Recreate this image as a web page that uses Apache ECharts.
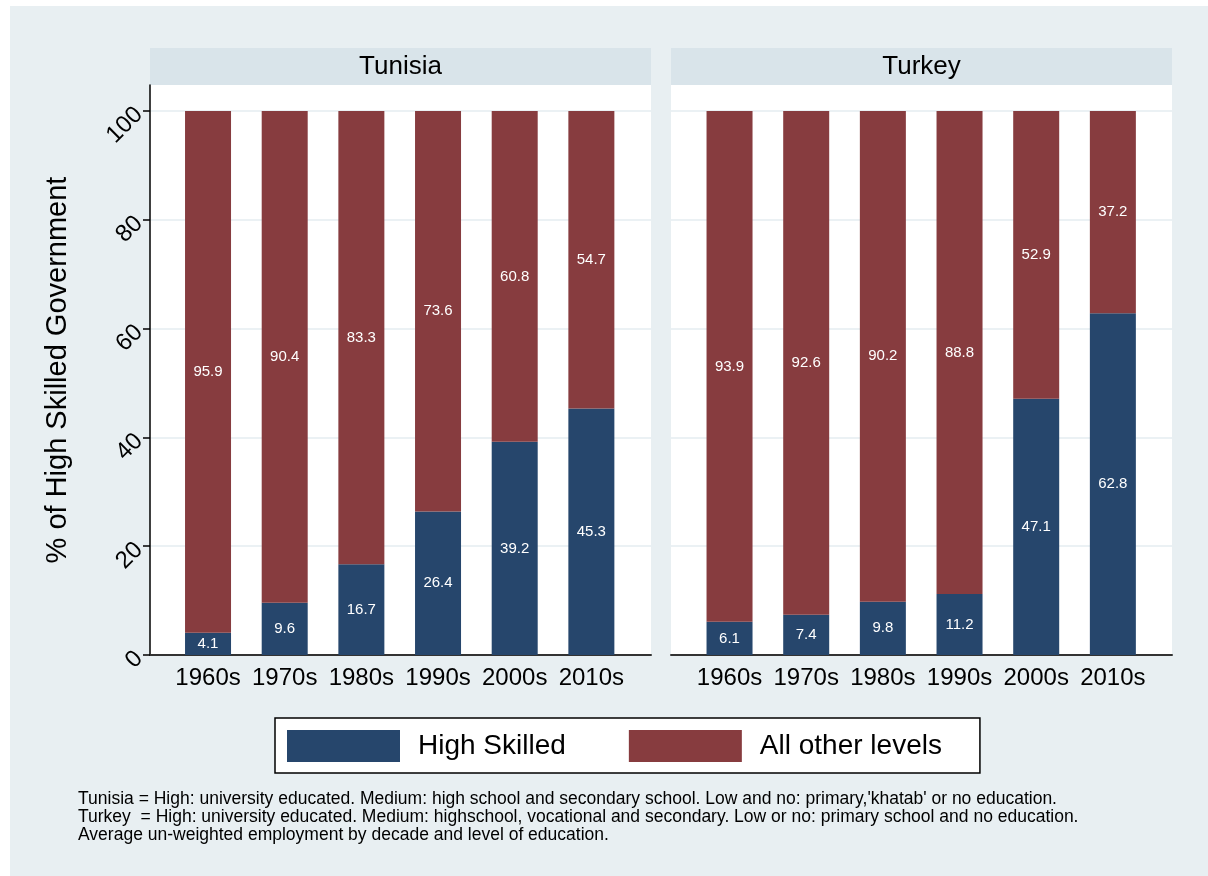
<!DOCTYPE html>
<html><head><meta charset="utf-8">
<script src="https://cdn.jsdelivr.net/npm/echarts@6/dist/echarts.min.js"></script>
<style>html,body{margin:0;padding:0;background:#fff}#c{width:1208px;height:876px}</style>
</head><body><div id="c"></div>
<script>
const decades = ['1960s','1970s','1980s','1990s','2000s','2010s'];
const panels = ['Tunisia','Turkey'];
const tunisiaHigh = [4.1, 9.6, 16.7, 26.4, 39.2, 45.3];
const tunisiaOther = [95.9, 90.4, 83.3, 73.6, 60.8, 54.7];
const turkeyHigh = [6.1, 7.4, 9.8, 11.2, 47.1, 62.8];
const turkeyOther = [93.9, 92.6, 90.2, 88.8, 52.9, 37.2];
const yTicks = [0, 20, 40, 60, 80, 100];
const seriesNames = ['High Skilled', 'All other levels'];
const yTitle = '% of High Skilled Government';
const notes = [
  "Tunisia = High: university educated. Medium: high school and secondary school. Low and no: primary,'khatab' or no education.",
  "Turkey  = High: university educated. Medium: highschool, vocational and secondary. Low or no: primary school and no education.",
  "Average un-weighted employment by decade and level of education."
];

const FONT = "'Liberation Sans', Arial, Helvetica, sans-serif";
const BLUE = '#26466c';
const RED = '#873c3f';
const BG = '#e8eff2';
const STRIP = '#d9e4ea';
const GRIDLINE = '#e4ecf0';

const panelLeft = [150, 671];
const panelWidth = 501;
const plotTop = 85, plotBottom = 655, top100 = 111;
const barAreaLeft = [169.7, 691.2];
const barAreaWidth = 460;

const chart = echarts.init(document.getElementById('c'), null, {renderer: 'canvas'});

const grids = [], xAxes = [], yAxes = [], series = [], graphics = [];
graphics.push({type: 'rect', shape: {x: 10, y: 6, width: 1198, height: 870}, style: {fill: BG}, z: -10, silent: true});

const dataSets = [[tunisiaHigh, tunisiaOther], [turkeyHigh, turkeyOther]];

panels.forEach((p, i) => {
  // background / frame grid (index 2*i)
  grids.push({left: panelLeft[i], top: plotTop, width: panelWidth, height: plotBottom - plotTop,
    show: true, backgroundColor: '#ffffff', borderWidth: 0});
  xAxes.push({
    type: 'value', gridIndex: 2 * i, min: 0, max: 1,
    axisLine: {show: true, onZero: false, lineStyle: {color: '#333333', width: 2}},
    axisTick: {show: false}, splitLine: {show: false}, axisLabel: {show: false}
  });
  yAxes.push({
    type: 'value', gridIndex: 2 * i, min: 0, max: 100 * (plotBottom - plotTop) / (plotBottom - top100),
    name: i === 0 ? yTitle : '', nameLocation: 'middle', nameGap: 78,
    nameTextStyle: {fontSize: 29, color: '#000', fontFamily: FONT},
    axisLine: {show: i === 0, onZero: false, lineStyle: {color: '#000', width: 1.5}},
    axisTick: {show: i === 0, customValues: yTicks, length: 7, lineStyle: {color: '#000', width: 1.5}},
    axisLabel: {show: i === 0, customValues: yTicks, rotate: 45, margin: 11, fontSize: 24, color: '#000', fontFamily: FONT},
    splitLine: {show: true, lineStyle: {color: GRIDLINE, width: 1.5}}
  });
  // bar grid (index 2*i+1)
  grids.push({left: barAreaLeft[i], top: top100, width: barAreaWidth, height: plotBottom - top100});
  xAxes.push({
    type: 'category', gridIndex: 2 * i + 1, data: decades,
    axisLine: {show: false}, axisTick: {show: false}, splitLine: {show: false},
    axisLabel: {show: true, interval: 0, hideOverlap: false, margin: 11, fontSize: 24, color: '#000', fontFamily: FONT}
  });
  yAxes.push({
    type: 'value', gridIndex: 2 * i + 1, min: 0, max: 100, show: false,
    splitLine: {show: false}
  });
  graphics.push({type: 'rect', shape: {x: panelLeft[i], y: 48, width: panelWidth, height: 37},
    style: {fill: STRIP}, silent: true});
  graphics.push({type: 'text', x: panelLeft[i] + panelWidth / 2, y: 67,
    style: {text: p, fontSize: 26, fontFamily: FONT, fill: '#000', align: 'center', verticalAlign: 'middle'}, silent: true});
  const [hi, ot] = dataSets[i];
  [hi, ot].forEach((arr, k) => {
    series.push({
      name: seriesNames[k], type: 'bar', xAxisIndex: 2 * i + 1, yAxisIndex: 2 * i + 1, stack: 'p' + i,
      barWidth: 46,
      itemStyle: {color: k === 0 ? BLUE : RED},
      label: {show: true, position: 'inside', color: '#fff', fontSize: 15, fontFamily: FONT,
        formatter: prm => Number(prm.value).toFixed(1)},
      data: arr
    });
  });
});

const option = {
  backgroundColor: '#ffffff',
  animation: false,
  textStyle: {fontFamily: FONT},
  grid: grids, xAxis: xAxes, yAxis: yAxes, series: series,
  legend: {
    data: seriesNames, left: 275, top: 718, orient: 'horizontal',
    icon: 'rect', itemWidth: 113, itemHeight: 32, itemGap: 63,
    padding: [12, 38, 11, 12],
    backgroundColor: '#ffffff', borderColor: '#000', borderWidth: 1.5,
    textStyle: {fontSize: 28, color: '#000', fontFamily: FONT, padding: [0, 0, 0, 13]},
    selectedMode: false
  },
  title: {
    text: notes.join('\n'), left: 78, top: 790, padding: 0,
    textStyle: {fontSize: 17.5, fontWeight: 'normal', color: '#000', fontFamily: FONT, lineHeight: 18}
  },
  graphic: graphics
};
chart.setOption(option);
</script></body></html>
